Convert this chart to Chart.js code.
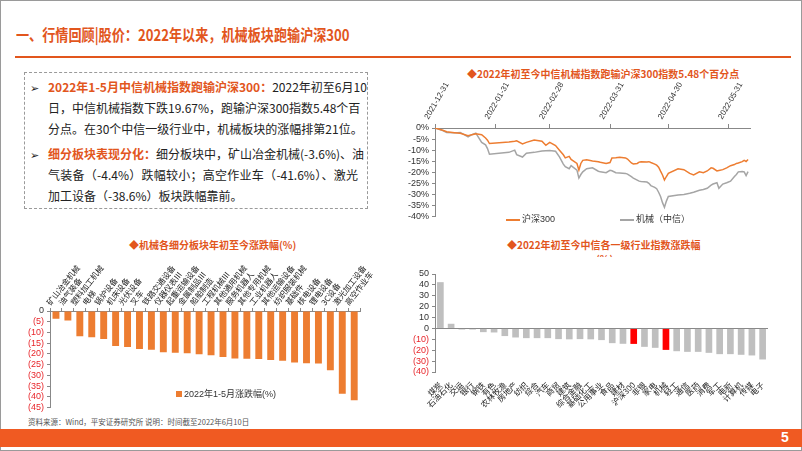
<!DOCTYPE html>
<html>
<head>
<meta charset="utf-8">
<script src="https://cdn.jsdelivr.net/npm/chart.js@4.4.0/dist/chart.umd.min.js"></script>
<style>
  body { margin: 0; width: 802px; height: 451px; overflow: hidden; background: #fff;
         font-family: "Noto Sans CJK SC", "Liberation Sans", sans-serif; }
  #page { position: absolute; left: 0; top: 0; width: 800px; height: 449px; border: 1px solid #9a9a9a; }
  .abs { position: absolute; white-space: nowrap; }
  .title { left: 16px; top: 22px; font-size: 16px; font-weight: bold; color: #e2561d;
           transform: scaleX(0.82); transform-origin: left top; }
  .rule { left: 15px; top: 56px; width: 776px; height: 2px; background: #e2561d; }
  .box { left: 24px; top: 72px; width: 342px; height: 135px; border: 1px dashed #9a9a9a; }
  .ln { position: absolute; left: 48px; width: 310px; font-size: 12px; color: #222;
        text-align: justify; text-align-last: justify; white-space: nowrap; }
  .ln.last { text-align-last: left; }
  .hl { color: #e2561d; font-weight: bold; }
  .bul { position: absolute; left: 30px; font-size: 11px; color: #222; }
  .ctitle { font-size: 10px; font-weight: bold; color: #e2561d; }
  .leg { font-size: 9px; color: #333; font-family: "Liberation Sans", "Noto Sans CJK SC", sans-serif; }
  canvas { position: absolute; }
  .foot { left: 0; top: 429px; width: 802px; height: 18px; background: #f05a22; }
</style>
</head>
<body>
<div id="page"></div>

<div class="abs title">一、行情回顾|股价：2022年以来，机械板块跑输沪深300</div>
<div class="abs rule"></div>

<div class="abs box"></div>
<div class="bul" style="top:79px">➢</div>
<div class="ln" style="top:78px"><span class="hl">2022年1-5月中信机械指数跑输沪深300：</span>2022年初至6月10</div>
<div class="ln" style="top:99px">日，中信机械指数下跌19.67%，跑输沪深300指数5.48个百</div>
<div class="ln last" style="top:120px">分点。在30个中信一级行业中，机械板块的涨幅排第21位。</div>
<div class="bul" style="top:146px">➢</div>
<div class="ln" style="top:145px"><span class="hl">细分板块表现分化：</span>细分板块中，矿山冶金机械(-3.6%)、油</div>
<div class="ln" style="top:166px">气装备（-4.4%）跌幅较小；高空作业车（-41.6%）、激光</div>
<div class="ln last" style="top:187px">加工设备（-38.6%）板块跌幅靠前。</div>

<div class="abs ctitle" style="left:467px;top:66px">◆2022年初至今中信机械指数跑输沪深300指数5.48个百分点</div>
<div class="abs ctitle" style="left:129px;top:237px">◆机械各细分板块年初至今涨跌幅(%)</div>
<div class="abs ctitle" style="left:507px;top:237px">◆2022年初至今中信各一级行业指数涨跌幅</div>
<div class="abs ctitle" style="left:596px;top:251px;height:6px;overflow:hidden">(%)</div>

<canvas id="lineChart" width="375" height="147" style="left:400px;top:78px"></canvas>
<canvas id="subChart" width="362" height="162" style="left:18px;top:254px"></canvas>
<canvas id="indChart" width="382" height="150" style="left:398px;top:262px"></canvas>

<div class="abs leg" style="left:506px;top:212px"><span style="display:inline-block;width:14px;height:2px;background:#ed7d31;vertical-align:middle;margin-right:2px"></span>沪深300</div>
<div class="abs leg" style="left:620px;top:212px"><span style="display:inline-block;width:14px;height:2px;background:#a5a5a5;vertical-align:middle;margin-right:2px"></span>机械（中信）</div>
<div class="abs leg" style="left:176px;top:387px"><span style="display:inline-block;width:6px;height:6px;background:#ed7d31;margin-right:2px"></span>2022年1-5月涨跌幅(%)</div>

<div class="abs" style="left:28px;top:416px;font-size:7.5px;color:#555">资料来源：Wind，平安证券研究所 说明：时间截至2022年6月10日</div>
<div class="abs foot"></div>
<div class="abs" style="left:781px;top:429px;font-size:14px;font-weight:bold;color:#fff;font-family:'Liberation Sans Narrow','Liberation Sans',sans-serif">5</div>

<script>
// 沪深300 vs 中信机械, days since 2021-12-31
var days = [0,4,6,10,13,17,19,21,24,26,27,28,38,41,42,45,47,51,55,57,59,62,64,66,67,69,70,73,74,75,76,78,81,84,85,88,90,91,93,95,98,99,101,102,104,105,106,109,110,111,113,114,115,116,117,118,119,120,125,128,131,133,136,138,140,142,143,145,146,148,150,152,154,155,156,158,159,160,161];
var hs300 = [0,-1,-1.7,-2.1,-2.4,-3.5,-3,-2.6,-3,-4.5,-5.5,-7,-6.3,-6,-5.8,-7.2,-6.5,-5.4,-6,-7.8,-6.5,-7.9,-10,-12.1,-13.5,-12.8,-14.2,-16,-19,-16,-14.6,-14.3,-14.9,-15.2,-15.5,-16,-15.6,-13.5,-13.4,-13.2,-13.5,-14,-15.8,-16.2,-16,-15.4,-15.2,-15.3,-15.2,-15.6,-16.3,-16.8,-17.7,-19.5,-21.2,-23.5,-21.9,-20.5,-18.4,-18.8,-20.5,-21.2,-19.8,-20.2,-19.4,-18,-18.2,-19.4,-19.2,-18.8,-18,-17,-16.5,-16,-15.8,-15.2,-14.6,-15.1,-14.2];
var jixie = [0,-1.2,-2,-2.2,-2,-4,-3,-2.3,-6.5,-7.6,-9.3,-11.8,-11,-10,-12,-13.1,-11.4,-11,-10.4,-10.3,-10.2,-10.5,-13,-16.3,-17.5,-18.4,-17,-19,-22.6,-21,-19.8,-18.4,-18,-19.5,-19.8,-20.2,-19.1,-19.3,-20.2,-20.3,-20.5,-20.8,-22,-22.6,-23.5,-24,-24.2,-24.4,-25,-26,-26.8,-27.4,-29,-30.9,-33.7,-35.8,-33,-30.9,-30.2,-30,-29.5,-29,-28.1,-27.8,-27.2,-25.8,-25.3,-24.7,-27.2,-25.3,-24.7,-24,-21.9,-21,-19.8,-19.6,-19.8,-21.5,-19.7];
var monthEnds = [0,31,59,90,120,151];
var monthLabels = ["2021-12-31","2022-01-31","2022-02-28","2022-03-31","2022-04-30","2022-05-31"];

// 机械细分板块
var subNames = ["矿山冶金机械","油气装备","塑料加工机械","电梯","锅炉设备","机床设备","光伏设备","叉车","铁路交通设备","仪器仪表Ⅲ","起重运输设备","金属制品Ⅲ","船舶制造","工程机械Ⅲ","其他通用机械","服务机器人","其他专用机械","工业机器人","其他运输设备","纺织服装机械","基础件","核电设备","锂电设备","3C设备","激光加工设备","高空作业车"];
var subValues = [-3.6,-4.4,-11.8,-12.2,-13,-16.3,-16.8,-17.7,-18,-19.2,-19.4,-19.7,-20.2,-20.6,-21.4,-22.1,-22.3,-22.4,-22.8,-23.2,-24,-24.3,-24.5,-27.6,-38.6,-41.6];

// 中信一级行业
var indNames = ["煤炭","石油石化","交运","银行","钢铁","有色","农林牧渔","房地产","纺织","综合","汽车","商贸","建筑","综合金融","基础化工","公用事业","食品","建材","沪深300","非银","家电","机械","轻工","通信","医药","消费","军工","电新","计算机","传媒","电子"];
var indValues = [42.5,4.3,-1,-1,-3.4,-3.7,-7,-8.3,-8.9,-8.9,-8.9,-9.8,-10,-9.8,-10,-10.7,-13.5,-14.1,-14.2,-16.9,-17.8,-19.7,-20.9,-21.5,-21.5,-22.4,-23.6,-23.6,-24.2,-24.8,-28.5];
var highlight = ["沪深300","机械"];

var tickFont = { family: "'Liberation Sans', 'Noto Sans CJK SC', sans-serif", size: 9 };
var dateFont = { family: "'Liberation Sans', sans-serif", size: 8 };
var cjkFont = { family: "'Noto Sans CJK SC', sans-serif", size: 8 };
var RED = "#e8262b";

function pts(vals) {
  return days.map(function(d, i) { return { x: d, y: vals[i] }; });
}
function paren(v) {
  return v < 0 ? "(" + (-v) + ")" : String(v);
}

new Chart(document.getElementById("lineChart"), {
  type: "line",
  data: {
    datasets: [
      { label: "沪深300", data: pts(hs300), borderColor: "#ed7d31", borderWidth: 1.5, pointRadius: 0, tension: 0 },
      { label: "机械（中信）", data: pts(jixie), borderColor: "#a5a5a5", borderWidth: 1.5, pointRadius: 0, tension: 0 }
    ]
  },
  options: {
    responsive: false, animation: false,
    layout: { padding: { right: 25, bottom: 2 } },
    plugins: { legend: { display: false }, tooltip: { enabled: false } },
    scales: {
      x: {
        type: "linear", position: "top", min: 0, max: 162,
        afterBuildTicks: function(s) { s.ticks = monthEnds.map(function(v) { return { value: v }; }); },
        afterFit: function(s) { s.height = 50; },
        ticks: { autoSkip: false, minRotation: 60, maxRotation: 60, font: dateFont, color: "#333",
                 callback: function(v) { return monthLabels[monthEnds.indexOf(v)]; } },
        grid: { drawOnChartArea: false, tickLength: 4, color: "#888" },
        border: { color: "#888" }
      },
      y: {
        min: -40, max: 0,
        afterFit: function(s) { s.width = 35; },
        ticks: { stepSize: 5, autoSkip: false, font: tickFont, color: "#333", callback: function(v) { return v + "%"; } },
        grid: { drawOnChartArea: false, tickLength: 3, color: "#888" },
        border: { color: "#888" }
      }
    }
  }
});

new Chart(document.getElementById("subChart"), {
  type: "bar",
  data: {
    labels: subNames,
    datasets: [{ label: "2022年1-5月涨跌幅(%)", data: subValues, backgroundColor: "#ed7d31",
                 barPercentage: 0.58, categoryPercentage: 1 }]
  },
  options: {
    responsive: false, animation: false,
    layout: { padding: { right: 8, bottom: 8 } },
    plugins: { legend: { display: false }, tooltip: { enabled: false } },
    scales: {
      x: {
        position: "top",
        afterFit: function(s) { s.height = 57; },
        ticks: { autoSkip: false, minRotation: 52, maxRotation: 52, font: cjkFont, color: "#222", padding: 1 },
        grid: { drawOnChartArea: false, offset: true, tickLength: 3, color: "#888" },
        border: { color: "#888" }
      },
      y: {
        min: -45, max: 0,
        afterFit: function(s) { s.width = 32; },
        ticks: { stepSize: 5, autoSkip: false, z: 1, font: tickFont,
                 color: function(c) { return c.tick.value < 0 ? RED : "#333"; },
                 callback: paren },
        grid: { drawOnChartArea: false, tickLength: 3, color: "#888" },
        border: { color: "#888" }
      }
    }
  }
});

new Chart(document.getElementById("indChart"), {
  type: "bar",
  data: {
    labels: indNames,
    datasets: [{ data: indValues,
                 backgroundColor: indNames.map(function(n) { return highlight.indexOf(n) >= 0 ? "#ff0000" : "#bfbfbf"; }),
                 barPercentage: 0.62, categoryPercentage: 1 }]
  },
  options: {
    responsive: false, animation: false,
    layout: { padding: { right: 12, top: 12 } },
    plugins: { legend: { display: false }, tooltip: { enabled: false } },
    scales: {
      x: {
        afterFit: function(s) { s.height = 40; },
        ticks: { autoSkip: false, minRotation: 45, maxRotation: 45, font: { family: "'Noto Sans CJK SC', sans-serif", size: 8 }, color: "#222", padding: 0 },
        grid: { display: false },
        border: { display: false }
      },
      y: {
        min: -40, max: 50,
        afterFit: function(s) { s.width = 37; },
        ticks: { stepSize: 10, autoSkip: false, z: 1, font: tickFont,
                 color: function(c) { return c.tick.value < 0 ? RED : "#333"; },
                 callback: paren },
        grid: { color: function(c) { return c.tick && c.tick.value === 0 ? "#888" : "rgba(0,0,0,0)"; },
                tickColor: "#888", tickLength: 3 },
        border: { color: "#888" }
      }
    }
  }
});
</script>
</body>
</html>
